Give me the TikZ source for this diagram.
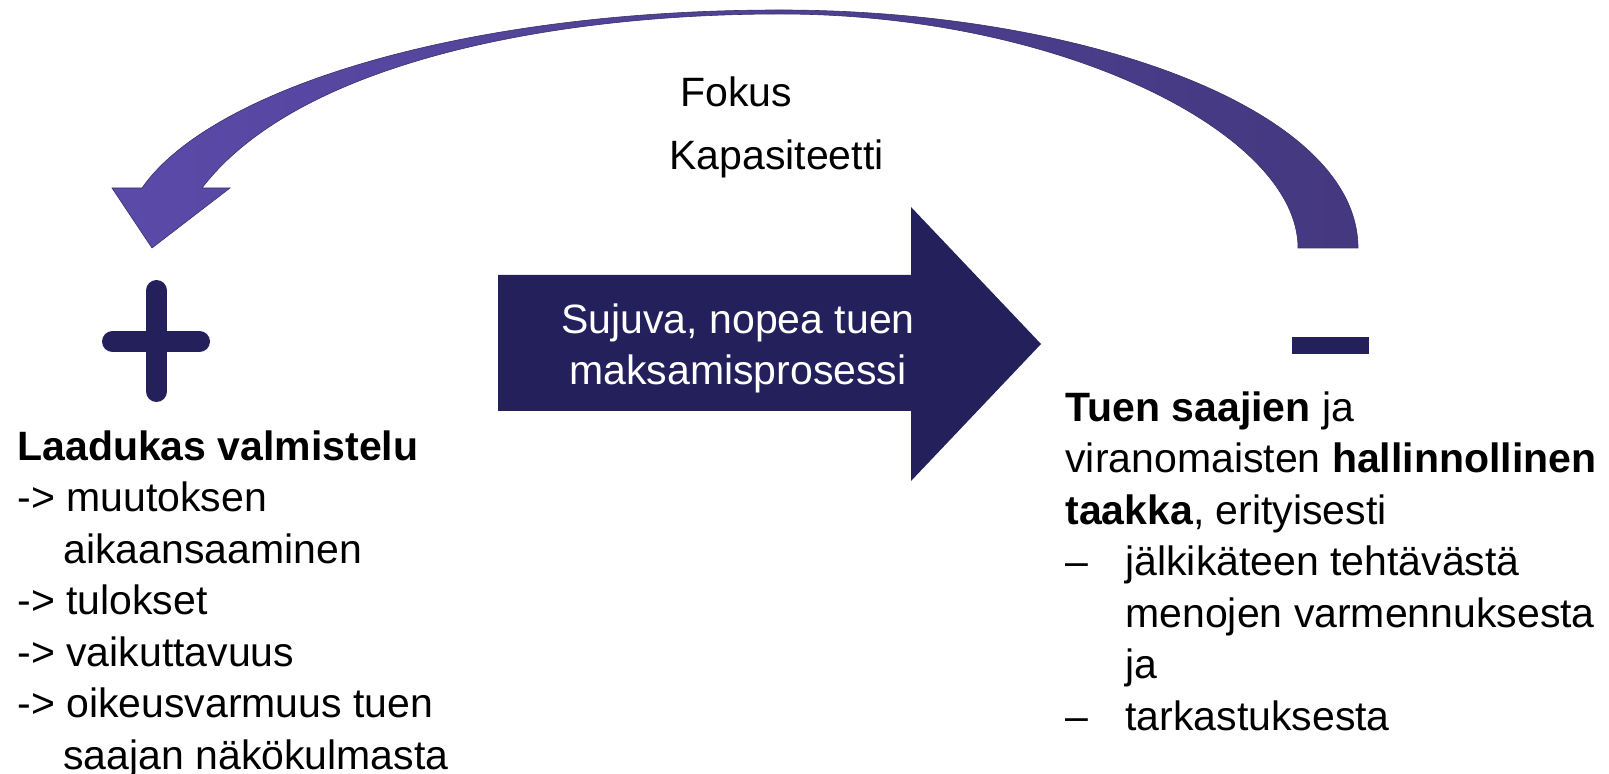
\documentclass[tikz,border=0pt]{standalone}
\usepackage{fontspec}
\setmainfont{Liberation Sans}
\usetikzlibrary{positioning}
\definecolor{NavyBlue}{RGB}{35,32,92}
\definecolor{ArcLight}{RGB}{91,74,168}
\definecolor{ArcDark}{RGB}{68,56,128}

\begin{document}
\begin{tikzpicture}[x=0.5pt, y=-0.5pt,
    txt/.style={inner sep=0pt, font=\fontsize{20.5pt}{25.75pt}\selectfont, align=left},
    sign/.style={NavyBlue, line width=10.5pt, line cap=round}]
    \useasboundingbox (0,0) rectangle (1609,774);

    % Feedback arrow
    \coordinate (tailout) at (1358,248);
    \coordinate (tailin) at (1298,248);
    \coordinate (topout) at (780,10);
    \coordinate (topin) at (780,14);
    \coordinate (shaftout) at (142,188);
    \coordinate (shaftin) at (202,188);
    \coordinate (headl) at (112,188);
    \coordinate (headr) at (230,188);
    \coordinate (tip) at (152,248);
    \shade[left color=ArcLight, right color=ArcDark, draw=ArcDark!85!black, line width=0.3pt]
      (tailout) .. controls (1358,108) and (1080,10) .. (topout)
      .. controls (460,10) and (210,90) .. (shaftout)
      -- (headl) -- (tip) -- (headr) -- (shaftin)
      .. controls (300,60) and (560,14) .. (topin)
      .. controls (1060,14) and (1298,133) .. (tailin) -- cycle;
    \node[txt, anchor=base west] (fokus) at (680,107) {Fokus};
    \node[txt, anchor=base west] (kapasiteetti) at (669,170) {Kapasiteetti};

    % Process arrow (base = last line)
    \fill[NavyBlue] (498,275) -- (911,275) -- (911,207) -- (1041,344)
      -- (911,481) -- (911,411) -- (498,411) -- cycle;
    \node[txt, align=center, white, anchor=base] (flow) at (738,385)
      {Sujuva, nopea tuen\\maksamisprosessi};

    % Plus side
    \draw[sign] (156.5,290.5) -- (156.5,391.5) (112.5,341.5) -- (199.5,341.5);
    \node[txt, anchor=base west] (prep) at (17,769)
      {\textbf{Laadukas valmistelu}\\
       -> muutoksen\\
       \hspace*{23pt}aikaansaaminen\\
       -> tulokset\\
       -> vaikuttavuus\\
       -> oikeusvarmuus tuen\\
       \hspace*{23pt}saajan näkökulmasta};

    % Minus side
    \fill[NavyBlue] (1292,337) rectangle (1369,354);
    \node[txt, anchor=base west] (burden) at (1065,730)
      {\textbf{Tuen saajien} ja\\
       viranomaisten \textbf{hallinnollinen}\\
       \textbf{taakka}, erityisesti\\
       \makebox[30pt][l]{–}jälkikäteen tehtävästä\\
       \hspace*{30pt}menojen varmennuksesta\\
       \hspace*{30pt}ja\\
       \makebox[30pt][l]{–}tarkastuksesta};
\end{tikzpicture}
\end{document}
